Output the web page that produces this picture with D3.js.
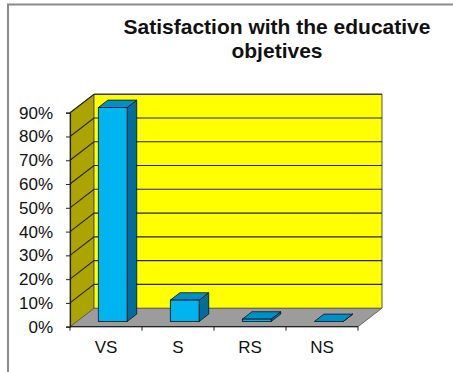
<!DOCTYPE html>
<html>
<head>
<meta charset="utf-8">
<script src="https://cdn.jsdelivr.net/npm/d3@7"></script>
<style>
  html, body { margin: 0; padding: 0; background: #fff; }
  svg { display: block; font-family: Arial, "Liberation Sans", sans-serif; }
</style>
</head>
<body>
<svg id="chart" width="453" height="372"></svg>
<script>
// Chart data
const categories = ["VS", "S", "RS", "NS"];
const values = [0.90, 0.09, 0.01, 0.00];
const yTicks = [0, 0.1, 0.2, 0.3, 0.4, 0.5, 0.6, 0.7, 0.8, 0.9];
const titleLines = ["Satisfaction with the educative", "objetives"];

const svg = d3.select("#chart");

// Frame (only top and left edges are in view)
svg.append("path")
  .attr("d", "M8,372 L8,4.5 L453,4.5")
  .attr("fill", "none").attr("stroke", "#8a8a8a").attr("stroke-width", 2);

// Title
svg.append("text")
  .attr("x", 277).attr("y", 34)
  .attr("text-anchor", "middle")
  .attr("font-weight", "bold").attr("font-size", 21)
  .attr("fill", "#111")
  .selectAll("tspan").data(titleLines).join("tspan")
  .attr("x", 277).attr("dy", (d, i) => i === 0 ? 0 : 24)
  .text(d => d);

// Plot geometry: front plane plus a depth offset for the 3D walls
const left = 70, right = 358;
const dx = 24, dy = -18.5;          // depth offset of back wall
const f0 = 0.28, f1 = 0.68;         // bar front / back as fraction of depth

const y = d3.scaleLinear().domain([0, 0.9]).range([326.7, 112.7]);
const x = d3.scaleBand().domain(categories).range([left, right])
  .paddingInner(0.6).paddingOuter(0.3);
const xCells = d3.scaleBand().domain(categories).range([left, right]);

const y0 = y(0), yTop = y(0.9);

// Floor
svg.append("polygon")
  .attr("points", [[left, y0], [right, y0], [right + dx, y0 + dy], [left + dx, y0 + dy]].join(" "))
  .attr("fill", "#9c9c9c").attr("stroke", "#555").attr("stroke-width", 0.8);

// Side wall
svg.append("polygon")
  .attr("points", [[left, y0], [left, yTop], [left + dx, yTop + dy], [left + dx, y0 + dy]].join(" "))
  .attr("fill", "#aca400").attr("stroke", "#555").attr("stroke-width", 0.8);

// Back wall
svg.append("polygon")
  .attr("points", [[left + dx, y0 + dy], [left + dx, yTop + dy], [right + dx, yTop + dy], [right + dx, y0 + dy]].join(" "))
  .attr("fill", "#ffff00").attr("stroke", "#555").attr("stroke-width", 1);

// Gridlines across side wall and back wall
svg.append("g").selectAll("path")
  .data(yTicks.filter(t => t > 0))
  .join("path")
  .attr("d", t => `M${left},${y(t)} L${left + dx},${y(t) + dy} L${right + dx},${y(t) + dy}`)
  .attr("fill", "none").attr("stroke", "#222").attr("stroke-width", 1.1);

// Y axis
const yAxis = d3.axisLeft(y).tickValues(yTicks)
  .tickFormat(d3.format(".0%")).tickSize(4).tickPadding(13);
const gy = svg.append("g").attr("transform", `translate(${left},0)`).call(yAxis);
gy.select(".domain").attr("stroke", "#222").attr("stroke-width", 1.2);
gy.selectAll(".tick line").attr("stroke", "#222");
gy.selectAll(".tick text").attr("font-size", 17).attr("fill", "#111")
  .attr("font-family", "Arial, 'Liberation Sans', sans-serif");

// X axis: labels centred in each cell, ticks on cell boundaries
const xAxis = d3.axisBottom(xCells).tickSize(0).tickPadding(14);
const gx = svg.append("g").attr("transform", `translate(0,${y0})`).call(xAxis);
gx.select(".domain").remove();
gx.selectAll(".tick text").attr("font-size", 17).attr("fill", "#111")
  .attr("font-family", "Arial, 'Liberation Sans', sans-serif");
svg.append("line")
  .attr("x1", left).attr("x2", right).attr("y1", y0).attr("y2", y0)
  .attr("stroke", "#222").attr("stroke-width", 1.2);
svg.append("g").selectAll("line")
  .data(categories.map(c => xCells(c)).concat([right]))
  .join("line")
  .attr("x1", d => d).attr("x2", d => d)
  .attr("y1", y0).attr("y2", y0 + 4)
  .attr("stroke", "#222");

// 3D bars
const bw = x.bandwidth();
const ddx = (f1 - f0) * dx, ddy = (f1 - f0) * dy;
const bars = svg.append("g").selectAll("g")
  .data(categories.map((c, i) => ({ c, v: values[i] })))
  .join("g");

bars.each(function (d) {
  const g = d3.select(this);
  const xl = x(d.c) + f0 * dx, xr = xl + bw;
  const yb = y(0) + f0 * dy, yt = y(d.v) + f0 * dy;
  g.append("polygon")
    .attr("points", [[xr, yt], [xr + ddx, yt + ddy], [xr + ddx, yb + ddy], [xr, yb]].join(" "))
    .attr("fill", "#006d9c").attr("stroke", "#111").attr("stroke-width", 0.8);
  g.append("polygon")
    .attr("points", [[xl, yt], [xr, yt], [xr + ddx, yt + ddy], [xl + ddx, yt + ddy]].join(" "))
    .attr("fill", "#0090c8").attr("stroke", "#111").attr("stroke-width", 0.8);
  g.append("rect")
    .attr("x", xl).attr("y", yt).attr("width", bw).attr("height", yb - yt)
    .attr("fill", "#00b4f0").attr("stroke", "#111").attr("stroke-width", 0.8);
});
</script>
</body>
</html>
